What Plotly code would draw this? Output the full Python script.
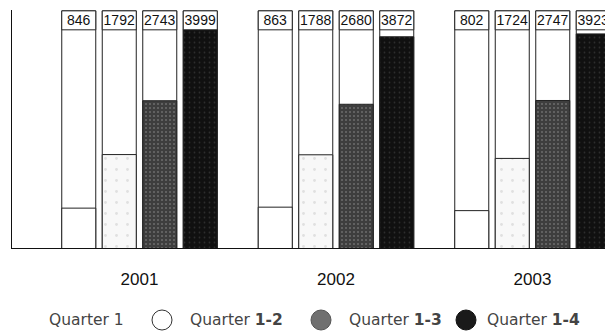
import plotly.graph_objects as go

# ---- data ----
years = ["2001", "2002", "2003"]
series_names = ["Quarter 1", "Quarter 1-2", "Quarter 1-3", "Quarter 1-4"]
q1 = [846, 863, 802]
q12 = [1792, 1788, 1724]
q13 = [2743, 2680, 2747]
q14 = [3999, 3872, 3923]
series_values = [q1, q12, q13, q14]

# ---- layout constants (pixels / styles) ----
W, H = 605, 334
ML, MR, MT, MB = 12, 0, 10, 86
PW, PH = W - ML - MR, H - MT - MB
Y_MIN, Y_MAX = 142, 4345
FRAME_TOP = 4330
LABEL_BASE = 3995
GROUP_PX = 196.5
BAR_PX = 34
PITCH_PX = 40.5
X_RANGE = [-127.5 / GROUP_PX, 2 + 72.5 / GROUP_PX]

styles = [
    dict(color="#ffffff", pattern=None),
    dict(color="#f8f8f8", pattern=dict(shape=".", fgcolor="#c8c8c8", bgcolor="#f8f8f8", size=11, solidity=0.05)),
    dict(color="#404040", pattern=dict(shape=".", fgcolor="#9a9a9a", bgcolor="#3e3e3e", size=4, solidity=0.2)),
    dict(color="#121212", pattern=dict(shape=".", fgcolor="#4a4a4a", bgcolor="#101010", size=5, solidity=0.1)),
]
LINE = dict(color="#222222", width=1)
LABEL_FONT = dict(family="Liberation Sans, Arial", size=14, color="#111111")

fig = go.Figure()
for i, (name, vals) in enumerate(zip(series_names, series_values)):
    off = (-(1.5 * PITCH_PX + BAR_PX / 2) + i * PITCH_PX) / GROUP_PX
    wid = BAR_PX / GROUP_PX
    # frame
    fig.add_trace(go.Bar(x=years, y=[FRAME_TOP for _ in vals], offset=off, width=wid,
                         marker=dict(color="#ffffff", line=LINE), hoverinfo="skip", showlegend=False))
    # value bar
    mk = dict(color=styles[i]["color"], line=LINE)
    if styles[i]["pattern"]:
        mk["pattern"] = styles[i]["pattern"]
    fig.add_trace(go.Bar(x=years, y=vals, offset=off, width=wid, name=name,
                         marker=mk, showlegend=False))
    # label box
    fig.add_trace(go.Bar(x=years, y=[FRAME_TOP - LABEL_BASE for _ in vals], base=LABEL_BASE,
                         offset=off, width=wid, marker=dict(color="#ffffff", line=LINE),
                         text=[str(v) for v in vals], textposition="inside",
                         insidetextanchor="middle", textangle=0, textfont=LABEL_FONT,
                         hoverinfo="skip", showlegend=False))


def px_x(x):
    return (x - ML) / PW


def px_y(y):
    return (MT + PH - y) / PH


# legend (text + circles)
LEG_Y = 320
LEG_FONT = dict(family="DejaVu Sans, Verdana, sans-serif", size=15.5, color="#444444")
leg_text_x = [46.7, 188, 347, 485]
leg_labels = ["Quarter 1", "Quarter <b>1-2</b>", "Quarter <b>1-3</b>", "Quarter <b>1-4</b>"]
annotations = []
for tx, lab in zip(leg_text_x, leg_labels):
    annotations.append(dict(x=px_x(tx), y=px_y(LEG_Y), xref="paper", yref="paper", text=lab,
                            showarrow=False, xanchor="left", yanchor="middle", font=LEG_FONT))

shapes = []
circ = [(162, "#ffffff", "#333333"), (321, "#707070", "#555555"), (466, "#1a1a1a", "#111111")]
R = 10
for cx, fc, lc in circ:
    shapes.append(dict(type="circle", xref="paper", yref="paper",
                       x0=px_x(cx - R), x1=px_x(cx + R), y0=px_y(LEG_Y + R), y1=px_y(LEG_Y - R),
                       fillcolor=fc, line=dict(color=lc, width=1)))

fig.update_layout(
    width=W, height=H,
    margin=dict(l=ML, r=MR, t=MT, b=MB),
    barmode="overlay",
    plot_bgcolor="#ffffff", paper_bgcolor="#ffffff",
    uniformtext=dict(minsize=LABEL_FONT["size"], mode="show"),
    annotations=annotations, shapes=shapes,
    xaxis=dict(type="category", range=X_RANGE, showline=True, linecolor="#111111", linewidth=1,
               showgrid=False, zeroline=False, ticks="", ticklabelstandoff=16,
               tickfont=dict(family="Liberation Sans, Arial", size=17, color="#111111")),
    yaxis=dict(range=[Y_MIN, Y_MAX], showline=True, linecolor="#111111", linewidth=1,
               showgrid=False, zeroline=False, showticklabels=False, ticks=""),
)

fig.write_html("out.html", config={"displayModeBar": False},
               post_script="document.body.style.margin='0';document.body.style.overflow='hidden';")
